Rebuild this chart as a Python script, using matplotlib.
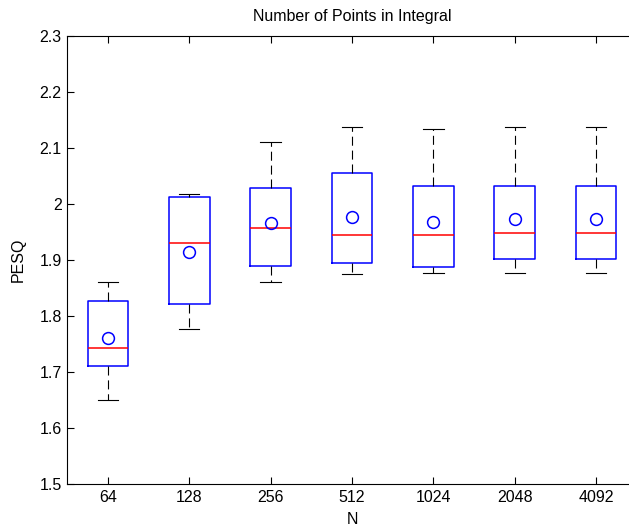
import matplotlib
matplotlib.use('Agg')
import matplotlib.pyplot as plt

plt.rcParams['font.family'] = ['Liberation Sans', 'DejaVu Sans']
plt.rcParams['lines.scale_dashes'] = False

# PESQ box statistics per number of integration points
labels = ['64', '128', '256', '512', '1024', '2048', '4092']
q1 = [1.711, 1.821, 1.889, 1.894, 1.887, 1.901, 1.901]
q3 = [1.826, 2.013, 2.029, 2.056, 2.032, 2.033, 2.033]
med = [1.743, 1.931, 1.957, 1.945, 1.945, 1.948, 1.948]
mean = [1.760, 1.915, 1.966, 1.976, 1.968, 1.973, 1.973]
wlo = [1.650, 1.776, 1.861, 1.875, 1.877, 1.877, 1.877]
whi = [1.861, 2.018, 2.111, 2.137, 2.134, 2.137, 2.137]

stats = []
for i in range(len(labels)):
    stats.append({'label': labels[i], 'q1': q1[i], 'q3': q3[i], 'med': med[i],
                  'mean': mean[i], 'whislo': wlo[i], 'whishi': whi[i], 'fliers': []})

fig = plt.figure(figsize=(6.29, 5.31), dpi=100)
# axes run past the right edge of the figure
ax = fig.add_axes([67.3 / 629, 47 / 531, 569.4 / 629, 448 / 531])

ax.bxp(stats, widths=0.5, showmeans=True, showfliers=False,
       boxprops=dict(color='#0000ff', linewidth=1.1),
       medianprops=dict(color='#ff0000', linewidth=1.1),
       whiskerprops=dict(color='black', linewidth=0.8, linestyle=(0, (6.5, 3.5))),
       capprops=dict(color='black', linewidth=0.8),
       capwidths=0.25,
       meanprops=dict(marker='o', markerfacecolor='none', markeredgecolor='#0000ff',
                      markersize=8.5, markeredgewidth=1.1))

ax.set_xlim(0.5, 7.5)
ax.set_ylim(1.5, 2.3)
ax.set_yticks([1.5, 1.6, 1.7, 1.8, 1.9, 2.0, 2.1, 2.2, 2.3])
ax.set_yticklabels(['1.5', '1.6', '1.7', '1.8', '1.9', '2', '2.1', '2.2', '2.3'])
ax.tick_params(direction='in', length=5, width=0.8, top=True, right=True,
               labelsize=11.5, pad=4)
for s in ax.spines.values():
    s.set_linewidth(0.8)

ax.set_title('Number of Points in Integral', fontsize=11.5, pad=11)
ax.set_xlabel('N', fontsize=11.5, labelpad=5)
ax.set_ylabel('PESQ', fontsize=11.5, labelpad=10)

fig.savefig('out.png', dpi=100)
